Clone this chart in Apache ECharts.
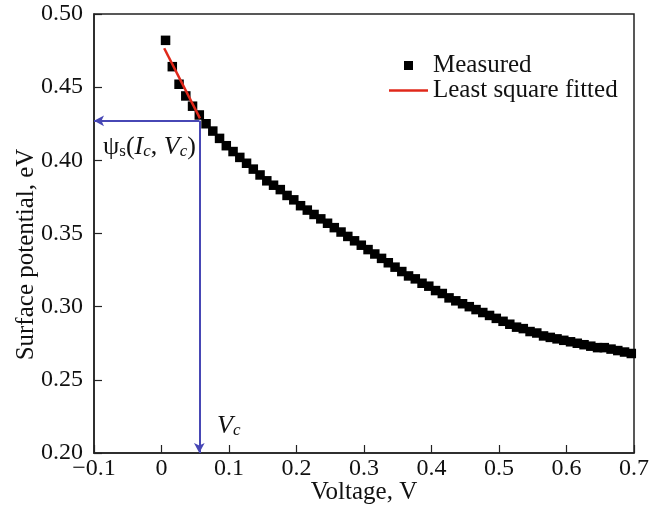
<!DOCTYPE html>
<html>
<head>
<meta charset="utf-8">
<script src="https://cdn.jsdelivr.net/npm/echarts@6/dist/echarts.min.js"></script>
<style>
  html, body { margin: 0; padding: 0; background: #fff; }
  #chart { width: 662px; height: 508px; }
</style>
</head>
<body>
<div id="chart"></div>
<script>
// measured surface potential vs voltage
const voltage = [
  0.006, 0.016, 0.026, 0.036, 0.046, 0.056, 0.066, 0.076, 0.086, 0.096,
  0.106, 0.116, 0.126, 0.136, 0.146, 0.156, 0.166, 0.176, 0.186, 0.196,
  0.206, 0.216, 0.226, 0.236, 0.246, 0.256, 0.266, 0.276, 0.286, 0.296,
  0.306, 0.316, 0.326, 0.336, 0.346, 0.356, 0.366, 0.376, 0.386, 0.396,
  0.406, 0.416, 0.426, 0.436, 0.446, 0.456, 0.466, 0.476, 0.486, 0.496,
  0.506, 0.516, 0.526, 0.536, 0.546, 0.556, 0.566, 0.576, 0.586, 0.596,
  0.606, 0.616, 0.626, 0.636, 0.646, 0.656, 0.666, 0.676, 0.686, 0.696
]
const potential = [
  0.482, 0.464, 0.452, 0.444, 0.437, 0.431, 0.425, 0.420, 0.415, 0.410,
  0.406, 0.402, 0.398, 0.394, 0.390, 0.386, 0.383, 0.380, 0.376, 0.373,
  0.369, 0.366, 0.363, 0.360, 0.357, 0.354, 0.351, 0.348, 0.345, 0.342,
  0.339, 0.336, 0.333, 0.330, 0.327, 0.324, 0.321, 0.319, 0.316, 0.314,
  0.311, 0.309, 0.306, 0.304, 0.302, 0.300, 0.298, 0.296, 0.294, 0.292,
  0.290, 0.288, 0.286, 0.285, 0.283, 0.282, 0.280, 0.279, 0.278, 0.277,
  0.276, 0.275, 0.274, 0.273, 0.272, 0.272, 0.271, 0.270, 0.269, 0.268
]
// least square fit segment
const fitVoltage = [0.004, 0.057]
const fitPotential = [0.4766, 0.4287]
// critical point guides
const vc = 0.056
const psiC = 0.427

const xTicks = { min: -0.1, max: 0.7, interval: 0.1 }
const yTicks = { min: 0.2, max: 0.5, interval: 0.05 }

const font = 'Liberation Serif'
const blue = '#4747b5'
const red = '#e0281a'

const chart = echarts.init(document.getElementById('chart'))

const option = {
  backgroundColor: '#fff',
  animation: false,
  textStyle: { fontFamily: font, color: '#111' },
  grid: {
    left: 94, right: 28, top: 14, bottom: 55,
    outerBoundsMode: 'none',
    containLabel: false,
    show: true, borderColor: '#222', borderWidth: 1.5,
  },
  xAxis: {
    type: 'value',
    min: xTicks.min, max: xTicks.max, interval: xTicks.interval,
    name: 'Voltage, V',
    nameLocation: 'middle',
    nameGap: 27,
    nameMoveOverlap: false,
    nameTextStyle: { fontFamily: font, fontSize: 25, color: '#111', verticalAlign: 'top' },
    axisLine: { onZero: false, lineStyle: { color: '#222', width: 1.5 } },
    axisTick: { inside: true, length: 8, lineStyle: { color: '#222', width: 1.2 } },
    axisLabel: {
      fontFamily: font, fontSize: 24, color: '#111', margin: 4,
      formatter: (v) => {
        if (Math.abs(v) < 1e-9) return '0'
        return v.toFixed(1).replace('-', '\u2212')
      },
    },
    splitLine: { show: false },
  },
  yAxis: {
    type: 'value',
    min: yTicks.min, max: yTicks.max, interval: yTicks.interval,
    name: 'Surface potential, eV',
    nameLocation: 'middle',
    nameGap: 55,
    nameMoveOverlap: false,
    nameTextStyle: { fontFamily: font, fontSize: 25, color: '#111', padding: [0, 42, 0, 0] },
    axisLine: { onZero: false, lineStyle: { color: '#222', width: 1.5 } },
    axisTick: { inside: true, length: 8, lineStyle: { color: '#222', width: 1.2 } },
    axisLabel: {
      fontFamily: font, fontSize: 24, color: '#111', margin: 11,
      formatter: (v) => v.toFixed(2),
    },
    splitLine: { show: false },
  },
  legend: {
    orient: 'vertical',
    left: 384,
    top: 48,
    itemWidth: 39,
    itemHeight: 9,
    itemGap: 0,
    symbolKeepAspect: true,
    textStyle: { fontFamily: font, fontSize: 25, color: '#111' },
    data: [
      { name: 'Measured', icon: 'path://M0,0 h9 v9 h-9 z', itemStyle: { color: '#000', opacity: 1 } },
      { name: 'Least square fitted', icon: 'path://M0,0 h40 v2.6 h-40 z', itemStyle: { color: red } },
    ],
  },
  series: [
    {
      name: 'Measured',
      type: 'scatter',
      symbol: 'rect',
      symbolSize: 9.5,
      itemStyle: { color: '#000', opacity: 1 },
      data: voltage.map((v, i) => [v, potential[i]]),
      z: 2,
    },
    {
      name: 'Least square fitted',
      type: 'line',
      symbol: 'none',
      lineStyle: { color: red, width: 2.5 },
      itemStyle: { color: red },
      data: fitVoltage.map((v, i) => [v, fitPotential[i]]),
      z: 3,
    },
    {
      name: 'guides',
      type: 'line',
      data: [],
      z: 4,
      markLine: {
        silent: true,
        symbol: ['none', 'arrow'],
        symbolSize: [8, 10],
        label: { show: false },
        lineStyle: { color: blue, width: 2, type: 'solid' },
        data: [
          [{ coord: [vc, psiC] }, { coord: [xTicks.min, psiC] }],
          [{ coord: [vc, psiC] }, { coord: [vc, yTicks.min] }],
        ],
      },
    },
  ],
  graphic: [
    {
      type: 'text',
      left: 103,
      top: 134,
      style: {
        text: '{n|ψ}{s|s}{n|(}{i|I}{si|c}{n|, }{i|V}{si|c}{n|)}',
        rich: {
          n: { fontFamily: font, fontSize: 26, fill: '#111', verticalAlign: 'bottom' },
          i: { fontFamily: font, fontSize: 26, fontStyle: 'italic', fill: '#111', verticalAlign: 'bottom' },
          s: { fontFamily: font, fontSize: 17, fill: '#111', verticalAlign: 'bottom' },
          si: { fontFamily: font, fontSize: 17, fontStyle: 'italic', fill: '#111', verticalAlign: 'bottom' },
        },
      },
    },
    {
      type: 'text',
      left: 217,
      top: 413,
      style: {
        text: '{i|V}{si|c}',
        rich: {
          i: { fontFamily: font, fontSize: 26, fontStyle: 'italic', fill: '#111', verticalAlign: 'bottom' },
          si: { fontFamily: font, fontSize: 17, fontStyle: 'italic', fill: '#111', verticalAlign: 'bottom' },
        },
      },
    },
  ],
}

chart.setOption(option)
</script>
</body>
</html>
